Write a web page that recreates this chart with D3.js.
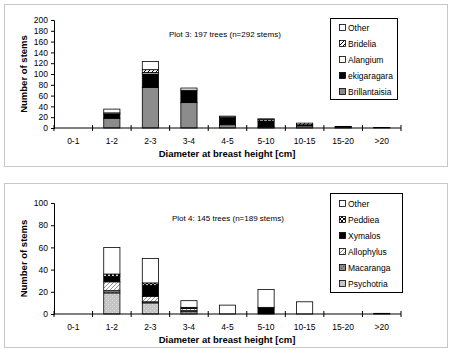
<!DOCTYPE html>
<html><head><meta charset="utf-8">
<script src="https://cdn.jsdelivr.net/npm/d3@7"></script>
<style>
body{margin:0;background:#fff;}
text{font-family:"Liberation Sans",Arial,sans-serif;fill:#000;}
</style></head><body>
<svg id="c" width="450" height="350"></svg>
<script>
const categories = ["0-1","1-2","2-3","3-4","4-5","5-10","10-15","15-20",">20"];

// Plot 3 series (bottom to top)
const p3Series = ["Brillantaisia","ekigaragara","Alangium","Bridelia","Other"];
const p3Brillantaisia = [0,18,75,47,6,2,4,2,1];
const p3Ekigaragara   = [0,8,25,23,14,11,2,1,0];
const p3Alangium      = [0,2,3,0,0,0,0,0,0];
const p3Bridelia      = [0,0,5,0,0,3,3,0,0];
const p3Other         = [0,7,15,4,2,1,0,0,0];
const p3Ticks = [0,20,40,60,80,100,120,140,160,180,200];
const p3Title = "Plot 3: 197 trees (n=292 stems)";

// Plot 4 series (bottom to top)
const p4Series = ["Psychotria","Macaranga","Allophylus","Xymalos","Peddiea","Other"];
const p4Psychotria = [0,19,10,2,0,0,0,0,0];
const p4Macaranga  = [0,2,1,1,0,0,0,0,0.6];
const p4Allophylus = [0,8,5,2,0,0,0,0,0];
const p4Xymalos    = [0,5,10,1,0,6,0,0,0];
const p4Peddiea    = [0,2,2,0,0,0,0,0,0];
const p4Other      = [0,24,22,6,8,16,11,0,0];
const p4Ticks = [0,20,40,60,80,100];
const p4Title = "Plot 4: 145 trees (n=189 stems)";

const svg = d3.select("#c");
const defs = svg.append("defs");
// patterns
function pat(id, bg, draw){
  const p = defs.append("pattern").attr("id",id).attr("patternUnits","userSpaceOnUse").attr("width",4).attr("height",4);
  p.append("rect").attr("width",4).attr("height",4).attr("fill",bg);
  draw(p);
}
pat("hatch","#fff",p=>{p.append("path").attr("d","M-1,1 l2,-2 M0,4 l4,-4 M3,5 l2,-2").attr("stroke","#000").attr("stroke-width",1);});
pat("hatchLight","#fff",p=>{p.append("path").attr("d","M-1,1 l2,-2 M0,4 l4,-4 M3,5 l2,-2").attr("stroke","#777").attr("stroke-width",0.8);});
pat("dotLight","#c4c4c4",p=>{p.append("rect").attr("x",0).attr("y",0).attr("width",1).attr("height",1).attr("fill","#e0e0e0");p.append("rect").attr("x",2).attr("y",2).attr("width",1).attr("height",1).attr("fill","#e0e0e0");});
pat("grayPat","#8a8a8a",p=>{p.append("rect").attr("x",0).attr("y",0).attr("width",1).attr("height",1).attr("fill","#555");p.append("rect").attr("x",2).attr("y",2).attr("width",1).attr("height",1).attr("fill","#555");});
pat("dotDark","#fff",p=>{p.append("rect").attr("x",0).attr("y",0).attr("width",2).attr("height",2).attr("fill","#000");p.append("rect").attr("x",2).attr("y",2).attr("width",2).attr("height",2).attr("fill","#000");});

const p3Fill = {"Brillantaisia":"#8c8c8c","ekigaragara":"#000","Alangium":"#fff","Bridelia":"url(#hatch)","Other":"#fff"};
const p4Fill = {"Psychotria":"url(#dotLight)","Macaranga":"url(#grayPat)","Allophylus":"url(#hatchLight)","Xymalos":"#000","Peddiea":"url(#dotDark)","Other":"#fff"};

function panel(cfg){
  const g = svg.append("g");
  g.append("rect").attr("x",cfg.frame[0]+0.5).attr("y",cfg.frame[1]+0.5).attr("width",cfg.frame[2]).attr("height",cfg.frame[3])
    .attr("fill","#fff").attr("stroke","#c8c8c8").attr("stroke-width",1);
  const x = d3.scaleBand().domain(categories).range([54,401]).paddingInner(0.58).paddingOuter(0.29);
  const y = d3.scaleLinear().domain([0,cfg.max]).range([cfg.y0,cfg.yTop]);
  const rows = categories.map((c,i)=>{const o={cat:c}; cfg.series.forEach((s,k)=>o[s]=cfg.values[k][i]); return o;});
  const stacked = d3.stack().keys(cfg.series)(rows);
  stacked.forEach(layer=>{
    g.append("g").selectAll("rect").data(layer.filter(d=>d[1]-d[0]>0)).join("rect")
      .attr("x",d=>x(d.data.cat)).attr("width",x.bandwidth())
      .attr("y",d=>y(d[1])).attr("height",d=>y(d[0])-y(d[1]))
      .attr("fill",cfg.fill[layer.key]).attr("stroke","#000").attr("stroke-width",0.8);
  });
  // y axis
  const ya = g.append("g").attr("transform",`translate(54,0)`).call(d3.axisLeft(y).tickValues(cfg.ticks).tickSize(3).tickPadding(3));
  ya.select(".domain").attr("stroke","#000");
  ya.selectAll("text").style("font-size","8.5px").attr("font-family","Liberation Sans, Arial, sans-serif");
  // x axis
  const xa = g.append("g").attr("transform",`translate(0,${cfg.y0})`);
  xa.append("line").attr("x1",54).attr("x2",401).attr("stroke","#000");
  const step = x.step();
  const tickX = d3.range(categories.length+1).map(i=>54+i*step);
  xa.selectAll("line.t").data(tickX).join("line").attr("class","t")
    .attr("x1",d=>d).attr("x2",d=>d).attr("y1",-3).attr("y2",3).attr("stroke","#000");
  xa.selectAll("text").data(categories).join("text")
    .attr("x",d=>x(d)+x.bandwidth()/2).attr("y",16).attr("text-anchor","middle")
    .style("font-size","8.5px").text(d=>d);
  // titles
  g.append("text").attr("x",227).attr("y",cfg.y0+29).attr("text-anchor","middle")
    .style("font-size","9.5px").style("font-weight","bold").text("Diameter at breast height [cm]");
  g.append("text").attr("transform",`translate(27,${(cfg.y0+cfg.yTop)/2}) rotate(-90)`).attr("text-anchor","middle")
    .style("font-size","9.5px").style("font-weight","bold").text("Number of stems");
  g.append("text").attr("x",cfg.noteX).attr("y",cfg.noteY).style("font-size","8px").text(cfg.note);
  // legend
  const L = cfg.legend;
  g.append("rect").attr("x",L.x+0.5).attr("y",L.y+0.5).attr("width",L.w).attr("height",L.h).attr("fill","#fff").attr("stroke","#000");
  const order = cfg.series.slice().reverse();
  const li = g.append("g").selectAll("g").data(order).join("g")
    .attr("transform",(d,i)=>`translate(${L.x+9},${L.y+L.first+i*L.gap})`);
  li.append("rect").attr("x",0.5).attr("y",-5.5).attr("width",6).attr("height",6).attr("fill",d=>cfg.fill[d]).attr("stroke","#000").attr("stroke-width",0.8);
  li.append("text").attr("x",9).attr("y",0.5).style("font-size","8.5px").text(d=>d);
}

panel({frame:[4,4,443,162], max:200, y0:128, yTop:20, ticks:p3Ticks, series:p3Series,
  values:[p3Brillantaisia,p3Ekigaragara,p3Alangium,p3Bridelia,p3Other], fill:p3Fill,
  note:p3Title, noteX:169, noteY:37, legend:{x:330,y:18,w:67,h:81,first:12,gap:16}});
panel({frame:[4,183,443,164], max:100, y0:314, yTop:203, ticks:p4Ticks, series:p4Series,
  values:[p4Psychotria,p4Macaranga,p4Allophylus,p4Xymalos,p4Peddiea,p4Other], fill:p4Fill,
  note:p4Title, noteX:172, noteY:221, legend:{x:330,y:193,w:72,h:99,first:13,gap:16}});
</script></body></html>
